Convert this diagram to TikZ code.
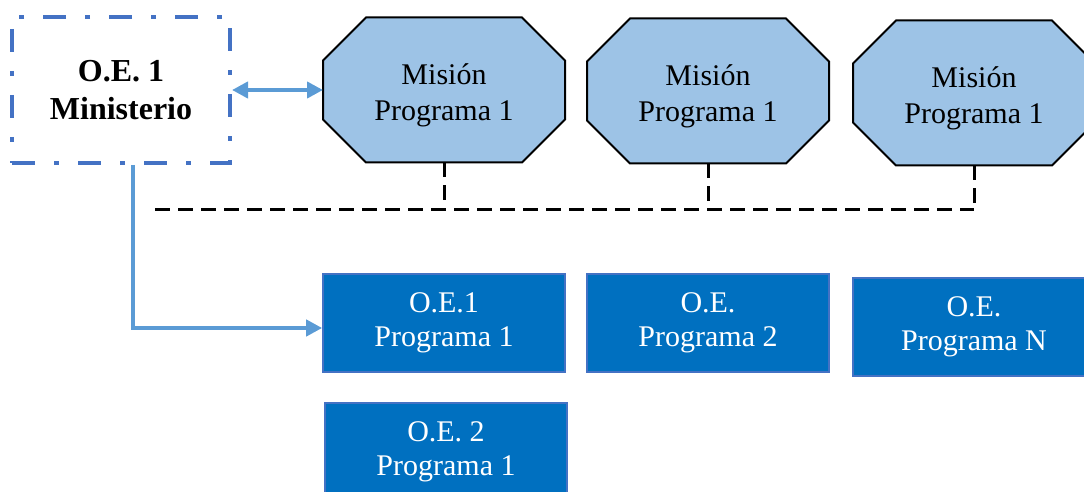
\documentclass[tikz,border=0pt]{standalone}
\usepackage{fontspec}
\setmainfont{Liberation Serif}
\usetikzlibrary{arrows.meta,backgrounds}
\definecolor{marco}{HTML}{4472C4}
\definecolor{flecha}{HTML}{5B9BD5}
\definecolor{celeste}{HTML}{9DC3E6}
\definecolor{azul}{HTML}{0070C0}

\begin{document}
\begin{tikzpicture}[x=0.5pt,y=-0.5pt,
    ministerio/.style={draw=marco,line width=2pt,
      dash pattern=on 11.5pt off 9.5pt on 2.5pt off 9.5pt,
      minimum width=109pt,minimum height=73pt,align=center,
      font=\bfseries\fontsize{16}{19}\selectfont},
    mision/.style={outer sep=0pt,minimum width=121pt,minimum height=72.5pt,
      text height=33.5pt,align=center,font=\fontsize{15}{18}\selectfont},
    octagono/.style={draw=black,line width=1pt,fill=celeste,line join=miter},
    objetivo/.style={draw=marco,line width=0.8pt,fill=azul,text=white,
      minimum width=121pt,minimum height=49pt,align=center,
      font=\fontsize{15}{17}\selectfont},
    enlace/.style={draw=flecha,line width=2pt},
    bus/.style={draw=black,line width=1.5pt,dash pattern=on 7.5pt off 4pt}]
    \useasboundingbox (0,0) rectangle (1084,492);
    \clip (0,0) rectangle (1084,492);

    \node[ministerio] (min) at (121,90) {O.E. 1\\Ministerio};
    \node[mision] (mis1) at (444,90) {Misión\\Programa 1};
    \node[mision] (mis2) at (708,91) {Misión\\Programa 1};
    \node[mision] (mis3) at (974,93) {Misión\\Programa 1};

    \node[objetivo] (oe1p1) at (444,323) {O.E.1\\Programa 1};
    \node[objetivo] (oep2) at (708,323) {O.E.\\Programa 2};
    \node[objetivo] (oepn) at (974,327) {O.E.\\Programa N};
    \node[objetivo] (oe2p1) at (446,452) {O.E. 2\\Programa 1};

    % octagonos detras del texto
    \begin{scope}[on background layer]
      \foreach \m in {mis1,mis2,mis3}
        \path[octagono] ([xshift=21.5pt]\m.north west) -- ([xshift=-21.5pt]\m.north east)
          -- ([yshift=-21.5pt]\m.north east) -- ([yshift=21.5pt]\m.south east)
          -- ([xshift=-21.5pt]\m.south east) -- ([xshift=21.5pt]\m.south west)
          -- ([yshift=21.5pt]\m.south west) -- ([yshift=-21.5pt]\m.north west) -- cycle;
    \end{scope}

    \coordinate (bus) at (155,210);

    \draw[enlace,{Triangle[length=8pt,width=8pt]}-{Triangle[length=8pt,width=8pt]}]
      (min.east) -- (mis1.west);
    \draw[enlace,-{Triangle[length=8pt,width=8pt]}]
      ([xshift=6pt]min.south) |- ([yshift=-2.5pt]oe1p1.west);

    \draw[bus] (bus) -- (mis3.south |- bus);
    \foreach \m in {mis1,mis2,mis3}
      \draw[bus] (\m.south) -- (\m.south |- bus);
  \end{tikzpicture}
\end{document}
